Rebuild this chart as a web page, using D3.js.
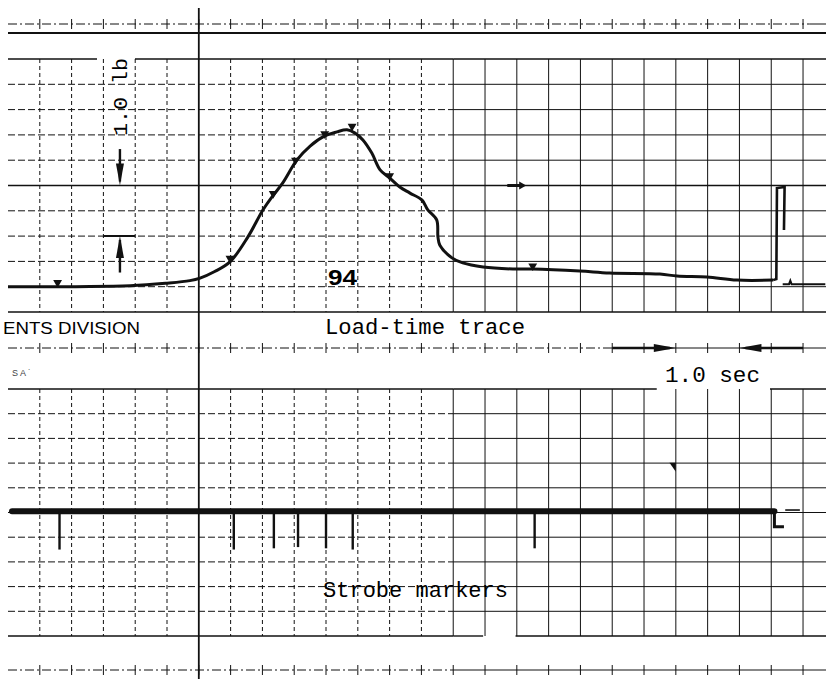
<!DOCTYPE html>
<html>
<head>
<meta charset="utf-8">
<script src="https://cdn.jsdelivr.net/npm/d3@7"></script>
<style>
  body { margin: 0; background: #fff; }
  svg { display: block; }
</style>
</head>
<body>
<div id="chartMain"></div>
<script>
// load trace, time in seconds (0 = heavy line), load in lb above baseline
const loadTime = [-3.0, -1.08, -0.5, -0.14, 0.02, 0.25, 0.49, 0.77, 1.01, 1.16, 1.32, 1.54, 1.75, 1.98, 2.17, 2.33, 2.45, 2.58, 2.72, 2.85, 3.0, 3.16, 3.32, 3.51, 3.6, 3.74, 3.76, 3.79, 3.98, 4.15, 4.47, 4.94, 5.25, 5.99, 6.46, 7.25, 7.52, 7.99, 8.46, 9.03];
const loadLb   = [0.0, 0.02, 0.07, 0.12, 0.17, 0.3, 0.49, 0.98, 1.52, 1.79, 2.05, 2.5, 2.78, 2.98, 3.06, 3.1, 3.04, 2.9, 2.64, 2.31, 2.15, 1.97, 1.85, 1.71, 1.52, 1.32, 0.98, 0.82, 0.57, 0.47, 0.39, 0.35, 0.35, 0.31, 0.27, 0.25, 0.21, 0.19, 0.13, 0.13];

// pen lift at the end of the run
const spikeTime = [9.03, 9.08, 9.09, 9.21, 9.2];
const spikeLb   = [0.13, 0.15, 1.95, 1.97, 1.12];
const tailTime  = [9.18, 9.28, 9.3, 9.32, 9.85];
const tailLb    = [0.05, 0.05, 0.12, 0.05, 0.05];

// small ticks the pen left on the load trace
const tickTime = [-2.22, 0.49, 1.17, 1.52, 1.98, 2.41, 3.0, 5.25];
const tickLb   = [0.04, 0.52, 1.8, 2.46, 2.98, 3.13, 2.15, 0.37];

// strobe channel (divisions of the lower grid)
const strobeLevel = 5.05;
const strobeTimes = [-2.19, 0.55, 1.18, 1.56, 2.0, 2.42, 5.28];
const strobeLow   = [3.5, 3.5, 3.55, 3.6, 3.55, 3.5, 3.55];
const strobeEnd   = 9.05;

// chart paper divisions
const timeGrid   = d3.range(-2.5, 9.51, 0.5);
const loadGrid   = d3.range(-0.5, 4.51, 0.5);
const strobeGrid = d3.range(0, 10.01, 1);

const W = 826, H = 679;
const svg = d3.select('#chartMain').append('svg')
    .attr('width', W).attr('height', H);
svg.append('rect').attr('width', W).attr('height', H).attr('fill', '#fff');

const x = d3.scaleLinear().domain([-3, 9.85]).range([8, 825.3]);
const yLoad = d3.scaleLinear().domain([-0.5, 4.5]).range([312, 59]);
const yStr = d3.scaleLinear().domain([0, 10]).range([636, 389]);

const ink = '#111';
const split = 4.0;   // paper grid prints dashed to the left of here
const left = 8, right = W;

function hLine(y, x0, x1, w, dash) {
    svg.append('line')
        .attr('x1', x0).attr('x2', x1).attr('y1', y).attr('y2', y)
        .attr('stroke', ink).attr('stroke-width', w)
        .attr('stroke-dasharray', dash || null);
}
function hGrid(y, w, gaps) {
    // split the line at the gaps, then at the dashed/solid boundary
    let segs = [[left, right]];
    (gaps || []).forEach(g => {
        const out = [];
        segs.forEach(s => {
            if (g[1] <= s[0] || g[0] >= s[1]) { out.push(s); return; }
            if (g[0] > s[0]) out.push([s[0], g[0]]);
            if (g[1] < s[1]) out.push([g[1], s[1]]);
        });
        segs = out;
    });
    const xs = x(split);
    segs.forEach(s => {
        if (s[0] < xs) hLine(y, s[0], Math.min(s[1], xs), w, w > 1.2 ? null : '7,3');
        if (s[1] > xs) hLine(y, Math.max(s[0], xs), s[1], w, null);
    });
}
function vGrid(y0, y1) {
    svg.append('g').selectAll('line')
        .data(timeGrid.filter(t => t !== 0))
        .join('line')
        .attr('x1', d => x(d)).attr('x2', d => x(d))
        .attr('y1', y0).attr('y2', y1)
        .attr('stroke', ink).attr('stroke-width', 1)
        .attr('stroke-dasharray', d => d < split ? '4,3' : null);
}
function rule(y, solidFrom) {
    hLine(y, left, x(solidFrom), 1, '9,3,2,3');
    hLine(y, x(solidFrom), right, 1, null);
    svg.append('g').selectAll('line')
        .data(timeGrid)
        .join('line')
        .attr('x1', d => x(d)).attr('x2', d => x(d))
        .attr('y1', y - 5).attr('y2', y + 5)
        .attr('stroke', ink).attr('stroke-width', 1);
}

// top edge of the paper
rule(24, 9.6);
hLine(33, left, right, 2, null);

// upper (load) grid
vGrid(yLoad(4.5), yLoad(-0.5));
loadGrid.forEach(v => {
    const heavy = (v === -0.5 || v === 2.0 || v === 4.5);
    hGrid(yLoad(v), heavy ? 1.6 : 1, v === 4.5 ? [[97, 135]] : null);
});
// calibration bar at 1.0 lb
hLine(yLoad(1.0), x(-1.5), x(-1.0), 2, null);

// lower (strobe) grid
vGrid(yStr(10), yStr(0));
strobeGrid.forEach(v => {
    const heavy = (v === 0 || v === 10);
    let gaps = null;
    if (v === 10) gaps = [[x(7.2), x(8.98)]];
    if (v === 0) gaps = [[x(4.47), x(4.98)]];
    hGrid(yStr(v), heavy ? 1.4 : 1, gaps);
});

// middle and bottom ruled lines
rule(348, 6.5);
rule(670, 4.0);

// heavy time-zero line across the whole paper
svg.append('line')
    .attr('x1', x(0)).attr('x2', x(0)).attr('y1', 8).attr('y2', H)
    .attr('stroke', ink).attr('stroke-width', 1.8);

// load trace
const loadLine = d3.line()
    .x(d => x(d[0])).y(d => yLoad(d[1]))
    .curve(d3.curveCatmullRom.alpha(0.5));
const linear = d3.line().x(d => x(d[0])).y(d => yLoad(d[1]));

svg.append('path')
    .datum(d3.zip(loadTime, loadLb))
    .attr('fill', 'none').attr('stroke', ink)
    .attr('stroke-width', 3).attr('stroke-linejoin', 'round')
    .attr('d', loadLine);
svg.append('path')
    .datum(d3.zip(spikeTime, spikeLb))
    .attr('fill', 'none').attr('stroke', ink).attr('stroke-width', 2.6)
    .attr('d', linear);
svg.append('path')
    .datum(d3.zip(tailTime, tailLb))
    .attr('fill', 'none').attr('stroke', ink).attr('stroke-width', 2)
    .attr('d', linear);

svg.append('g').selectAll('path')
    .data(d3.zip(tickTime, tickLb))
    .join('path')
    .attr('transform', d => `translate(${x(d[0])},${yLoad(d[1]) - 2}) rotate(180)`)
    .attr('d', d3.symbol(d3.symbolTriangle, 34))
    .attr('fill', ink);

// small pen arrow on the 2.0 lb line
svg.append('path')
    .attr('d', `M${x(4.85)},${yLoad(2.0)} L${x(5.1)},${yLoad(2.0)}`)
    .attr('stroke', ink).attr('stroke-width', 3);
svg.append('path')
    .attr('d', `M${x(5.1) + 3},${yLoad(2.0)} l-7,-4 l0,8 z`)
    .attr('fill', ink);

// 1.0 lb arrows
function vArrow(t, from, to) {
    const xa = x(t), ya = yLoad(from), yb = yLoad(to);
    const dir = yb > ya ? 1 : -1;
    svg.append('line')
        .attr('x1', xa).attr('x2', xa).attr('y1', ya).attr('y2', yb - dir * 4)
        .attr('stroke', ink).attr('stroke-width', 2.4);
    svg.append('path')
        .attr('d', `M${xa},${yb} L${xa - 4},${yb - dir * 22} L${xa + 4},${yb - dir * 22} Z`)
        .attr('fill', ink);
}
vArrow(-1.24, 2.72, 2.0);
vArrow(-1.24, 0.28, 1.0);

// 1.0 sec arrows on the ruled line
function hArrow(tFrom, tTo, y) {
    const xa = x(tFrom), xb = x(tTo);
    const dir = xb > xa ? 1 : -1;
    svg.append('line')
        .attr('x1', xa).attr('x2', xb - dir * 6).attr('y1', y).attr('y2', y)
        .attr('stroke', ink).attr('stroke-width', 2.4);
    svg.append('path')
        .attr('d', `M${xb},${y} L${xb - dir * 22},${y - 4} L${xb - dir * 22},${y + 4} Z`)
        .attr('fill', ink);
}
hArrow(6.5, 7.5, 348);
hArrow(9.5, 8.5, 348);

// strobe trace
svg.append('line')
    .attr('x1', 12).attr('x2', x(strobeEnd))
    .attr('y1', yStr(strobeLevel)).attr('y2', yStr(strobeLevel))
    .attr('stroke', ink).attr('stroke-width', 6).attr('stroke-linecap', 'round');
svg.append('g').selectAll('line')
    .data(d3.zip(strobeTimes, strobeLow))
    .join('line')
    .attr('x1', d => x(d[0])).attr('x2', d => x(d[0]))
    .attr('y1', yStr(strobeLevel)).attr('y2', d => yStr(d[1]))
    .attr('stroke', ink).attr('stroke-width', 2.4);
svg.append('path')
    .attr('d', `M${x(strobeEnd)},${yStr(strobeLevel)} L${x(strobeEnd)},${yStr(4.42)} L${x(9.2)},${yStr(4.42)}`)
    .attr('fill', 'none').attr('stroke', ink).attr('stroke-width', 3);
svg.append('line')
    .attr('x1', x(9.2)).attr('x2', right)
    .attr('y1', yStr(5.0)).attr('y2', yStr(5.0))
    .attr('stroke', ink).attr('stroke-width', 1.2);
svg.append('line')
    .attr('x1', x(9.22)).attr('x2', x(9.45))
    .attr('y1', yStr(5.1)).attr('y2', yStr(5.1))
    .attr('stroke', ink).attr('stroke-width', 1.6);
// stray pen mark in the strobe grid
svg.append('path')
    .attr('d', `M${x(7.4)},${yStr(6.85) - 4} L${x(7.5)},${yStr(6.85) - 4} L${x(7.5)},${yStr(6.85) + 5} Z`)
    .attr('fill', ink);

// texts
const mono = '"Courier New", "Liberation Mono", monospace';
svg.append('text')
    .attr('transform', `translate(${x(-1.24) + 7},${yLoad(3.75)}) rotate(-90)`)
    .attr('text-anchor', 'middle')
    .attr('font-family', mono).attr('font-size', 21)
    .attr('textLength', 78).attr('lengthAdjust', 'spacingAndGlyphs')
    .text('1.0 lb');

svg.append('text')
    .attr('x', 328).attr('y', 285)
    .attr('font-family', '"Liberation Sans", Arial, sans-serif')
    .attr('font-weight', 'bold').attr('font-size', 22)
    .attr('textLength', 29).attr('lengthAdjust', 'spacingAndGlyphs')
    .text('94');

svg.append('text')
    .attr('x', 3).attr('y', 334)
    .attr('font-family', '"Liberation Sans", Arial, sans-serif')
    .attr('font-size', 16)
    .attr('textLength', 137).attr('lengthAdjust', 'spacingAndGlyphs')
    .text('ENTS DIVISION');

svg.append('text')
    .attr('x', 12).attr('y', 376)
    .attr('font-family', '"Liberation Sans", Arial, sans-serif')
    .attr('font-size', 9).attr('fill', '#444')
    .text('S A  ˙');

svg.append('text')
    .attr('x', 325).attr('y', 334)
    .attr('font-family', mono).attr('font-size', 22)
    .attr('textLength', 200).attr('lengthAdjust', 'spacingAndGlyphs')
    .text('Load-time trace');

svg.append('text')
    .attr('x', 665).attr('y', 382)
    .attr('font-family', mono).attr('font-size', 22)
    .attr('textLength', 95).attr('lengthAdjust', 'spacingAndGlyphs')
    .text('1.0 sec');

svg.append('text')
    .attr('x', 323).attr('y', 597)
    .attr('font-family', mono).attr('font-size', 22)
    .attr('textLength', 185).attr('lengthAdjust', 'spacingAndGlyphs')
    .text('Strobe markers');
</script>
</body>
</html>
